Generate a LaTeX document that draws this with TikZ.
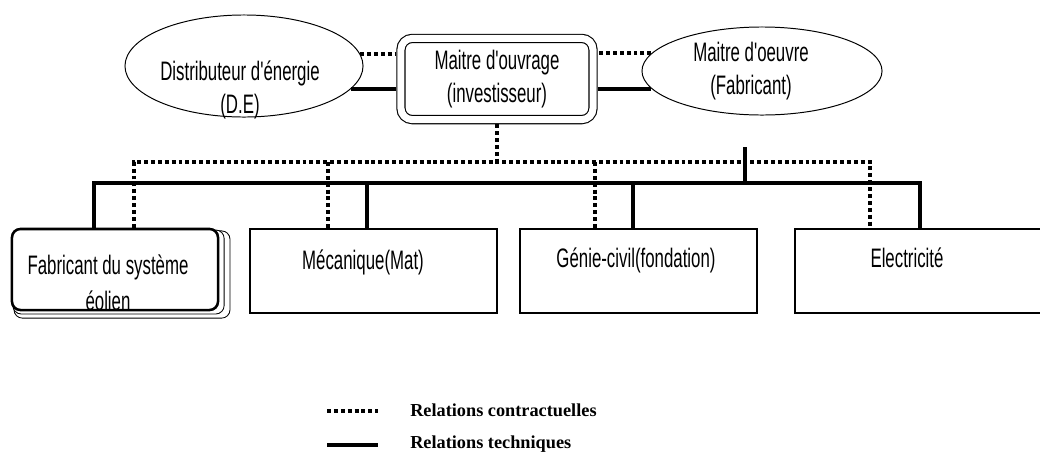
\documentclass[tikz,border=0pt]{standalone}
\usepackage{fontspec}
\setmainfont{Liberation Serif}
\newfontfamily\narrowfont[FakeStretch=0.63]{Liberation Sans}
\usetikzlibrary{shapes.geometric}

\tikzset{
    lbl/.style={font=\narrowfont\fontsize{19}{23}\selectfont, align=center, inner sep=0pt},
    legende/.style={font=\bfseries\fontsize{13}{15}\selectfont, anchor=west, inner sep=0pt},
    tech/.style={line width=2.8pt},
    contract/.style={line width=2.8pt, dash pattern=on 2.8pt off 2.1pt},
    acteur/.style={draw, ellipse, line width=0.7pt, inner sep=0pt},
    lot/.style={draw, line width=2pt, minimum width=#1, minimum height=2.1cm, inner sep=0pt},
    pile/.style={draw, fill=white, rounded corners=6pt, inner sep=0pt},
}

\begin{document}
\begin{tikzpicture}[x=0.025cm, y=-0.025cm]
    \useasboundingbox (0,0) rectangle (1040,455);

    \node[acteur, minimum width=5.95cm, minimum height=2.55cm] (de) at (244,66) {};
    \node[lbl] (detext) at (240,90) {Distributeur d'énergie\\(D.E)};

    \node[acteur, minimum width=6cm, minimum height=2.2cm] (mf) at (762,71) {};
    \node[lbl] (mftext) at (751,71) {Maitre d'oeuvre\\(Fabricant)};

    \node[lbl, draw, double, double distance=5pt, line width=0.8pt, outer sep=3.3pt,
          rounded corners=8pt, minimum width=4.8cm, minimum height=2.03cm]
          (mo) at (497,79) {Maitre d'ouvrage\\(investisseur)};

    \draw[contract] (de.6) -- (de.6 -| mo.west);
    \draw[tech] (de.-12) -- (de.-12 -| mo.west);
    \draw[contract] (mf.171) -- (mf.171 -| mo.east);
    \draw[tech] (mf.-171) -- (mf.-171 -| mo.east);

    \node[pile, line width=0.6pt, minimum width=5.4cm, minimum height=2.18cm] (fabc) at (122,274.5) {};
    \node[pile, line width=0.6pt, minimum width=5.28cm, minimum height=2.1cm] (fabb) at (118.5,272) {};
    \node[pile, line width=1.8pt, minimum width=5.15cm, minimum height=2.025cm] (fab) at (115,269.5) {};
    \node[lbl] (fabtext) at (108,283) {Fabricant du système\\[3pt]éolien};

    \node[lot=6.175cm] (mec) at (373.5,271) {};
    \node[lbl] (mectext) at (363,262) {Mécanique(Mat)};

    \node[lot=5.925cm] (gc) at (638.5,271) {};
    \node[lbl] (gctext) at (636,260) {Génie-civil(fondation)};

    \node[lot=6.375cm] (elec) at (922.5,271) {};
    \node[lbl] (electext) at (907,258) {Electricité};

    \coordinate (dbusL) at (134,162);
    \coordinate (dbusR) at (870,162);
    \coordinate (sbusL) at (94,183);
    \coordinate (sbusR) at (920,183);
    \coordinate (stub) at (745,147);
    \coordinate (dmec) at (328,162);
    \coordinate (smec) at (367,183);
    \coordinate (dgc) at (595,162);
    \coordinate (sgc) at (633,183);

    \draw[contract] (mo.south) -- (mo.south |- dbusL);
    \draw[contract] (dbusL |- fab.north) -- (dbusL) -- (dbusR) -- (dbusR |- elec.north);
    \draw[contract] (dmec) -- (dmec |- mec.north);
    \draw[contract] (dgc) -- (dgc |- gc.north);

    \draw[tech] (stub) -- (stub |- sbusL);
    \draw[tech] (sbusL |- fab.north) -- (sbusL) -- (sbusR) -- (sbusR |- elec.north);
    \draw[tech] (smec) -- (smec |- mec.north);
    \draw[tech] (sgc) -- (sgc |- gc.north);

    \node[legende] (leg1) at (410,410) {Relations contractuelles};
    \node[legende] (leg2) at (410,444) {Relations techniques};
    \coordinate (leg1a) at (327,411);
    \coordinate (leg1b) at (378,411);
    \coordinate (leg2a) at (327,445);
    \coordinate (leg2b) at (378,445);
    \draw[contract] (leg1a) -- (leg1b);
    \draw[tech] (leg2a) -- (leg2b);

\end{tikzpicture}
\end{document}
